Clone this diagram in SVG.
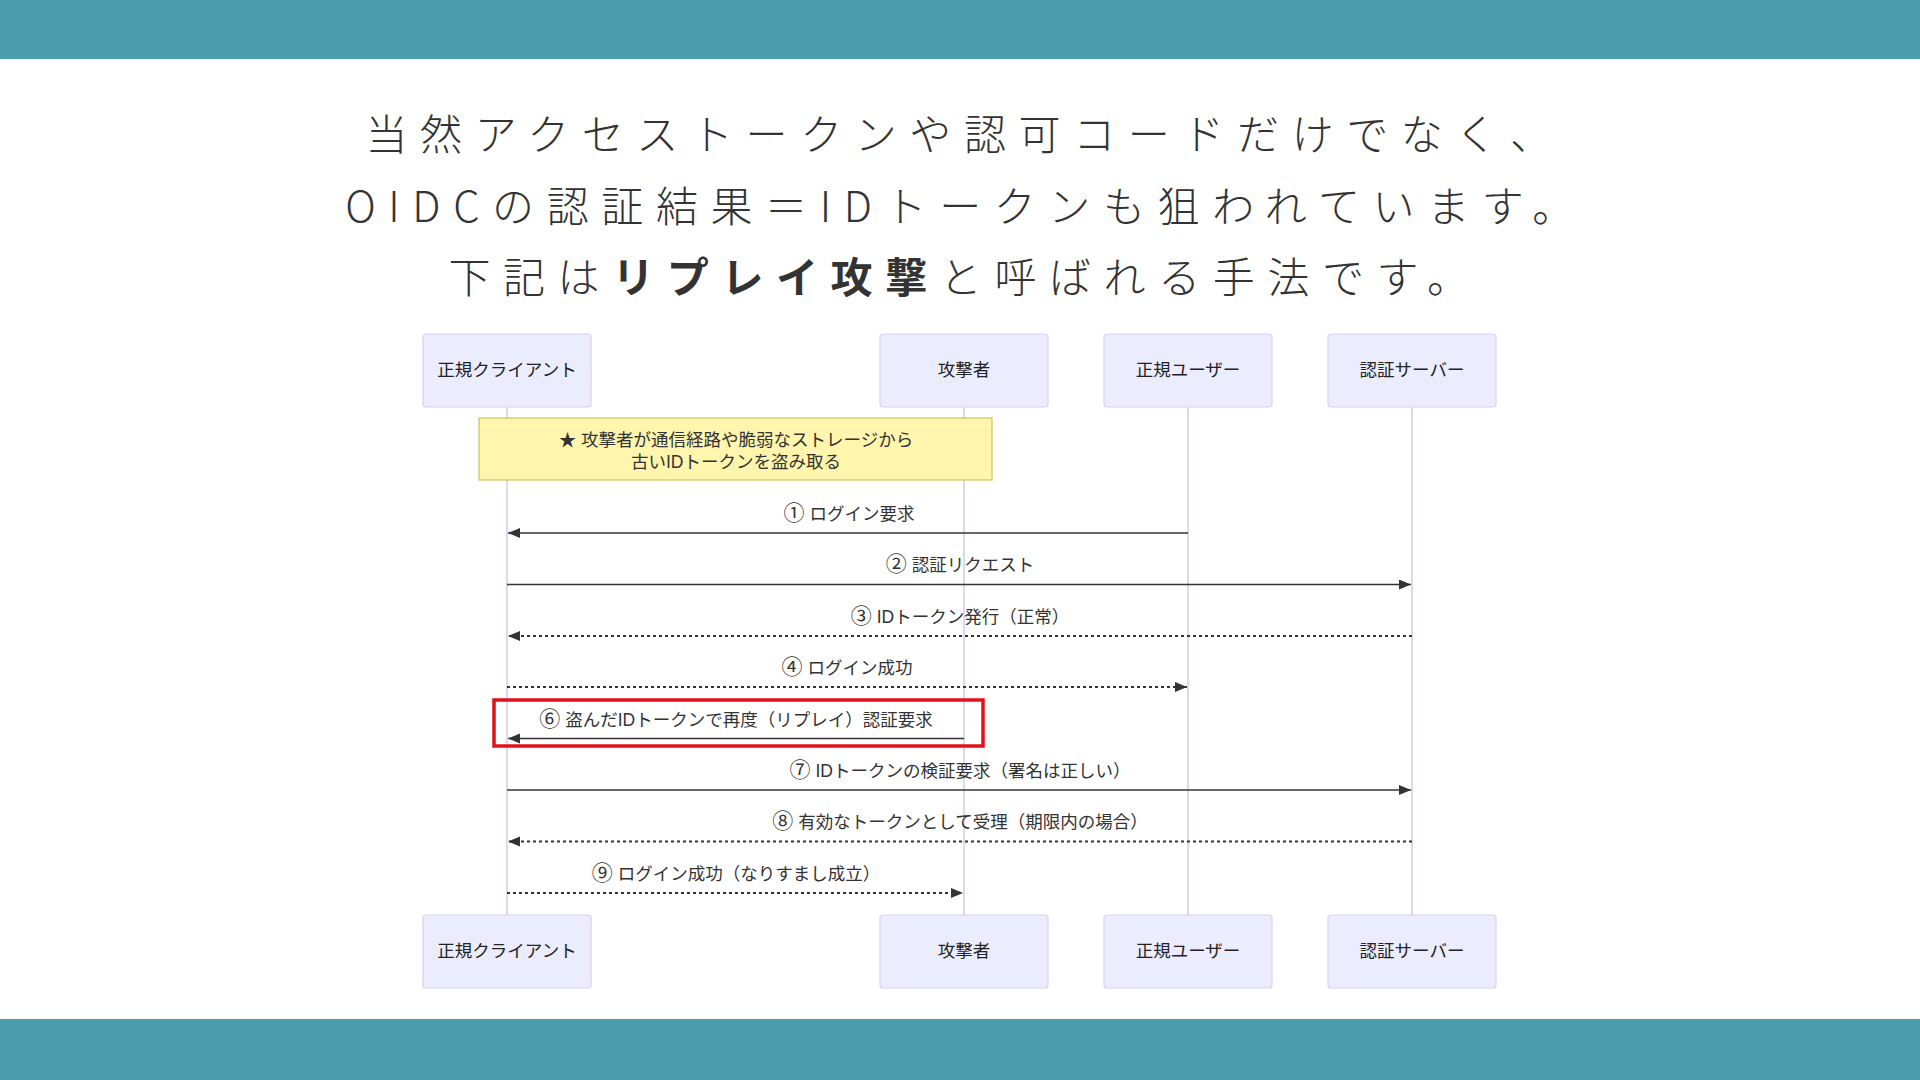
<svg xmlns="http://www.w3.org/2000/svg" width="1920" height="1080" viewBox="0 0 1920 1080">
<style>
.bar{fill:#4c9dab}
.title{font-family:"Noto Sans CJK JP","Noto Sans",sans-serif;font-size:42px;font-weight:300;fill:#333;letter-spacing:12.6px}
.title .b{font-weight:700}
.actor{fill:#ececff;stroke:#d9d0f2;stroke-width:1.2}
.lbl{font-family:"Liberation Sans","Noto Sans CJK JP",sans-serif;font-size:17.5px;fill:#222;text-anchor:middle}
.life{stroke:#d6ccef;stroke-width:1.6;fill:none}
.note{fill:#fff5ad;stroke:#c8c55a;stroke-width:1.2}
.msg{stroke:#333;stroke-width:1.6;fill:none}
.dot{stroke:#333;stroke-width:2;stroke-dasharray:3,3;fill:none}
.mt{font-family:"Liberation Sans","Noto Sans CJK JP",sans-serif;font-size:17.5px;fill:#333;text-anchor:middle}
.n{font-family:"Noto Sans CJK JP",sans-serif;font-size:21px}
.hl{fill:none;stroke:#e3101a;stroke-width:3.5}
</style>
<defs>
<marker id="ah" markerUnits="userSpaceOnUse" markerWidth="13" markerHeight="11" refX="12" refY="5" orient="auto">
<path d="M0,0 L12,5 L0,10 z" fill="#333"/>
</marker>
</defs>
<rect x="0" y="0" width="1920" height="1080" fill="#ffffff"/>
<rect class="bar" x="0" y="0" width="1920" height="59"/>
<rect class="bar" x="0" y="1019" width="1920" height="61"/>

<g id="title">
<text class="title" x="965" y="150" text-anchor="middle">当然アクセストークンや認可コードだけでなく、</text>
<text class="title" x="966" y="222" text-anchor="middle">OIDCの認証結果＝IDトークンも狙われています。</text>
<text class="title" x="965" y="293" text-anchor="middle">下記は<tspan class="b">リプレイ攻撃</tspan>と呼ばれる手法です。</text>
</g>

<g id="lifelines">
<line class="life" x1="507" y1="407" x2="507" y2="915"/>
<line class="life" x1="964" y1="407" x2="964" y2="915"/>
<line class="life" x1="1188" y1="407" x2="1188" y2="915"/>
<line class="life" x1="1412" y1="407" x2="1412" y2="915"/>
</g>

<g id="actor-client-top"><rect class="actor" x="423" y="334" width="168" height="73" rx="3"/><text class="lbl" x="507" y="376">正規クライアント</text></g>
<g id="actor-attacker-top"><rect class="actor" x="880" y="334" width="168" height="73" rx="3"/><text class="lbl" x="964" y="376">攻撃者</text></g>
<g id="actor-user-top"><rect class="actor" x="1104" y="334" width="168" height="73" rx="3"/><text class="lbl" x="1188" y="376">正規ユーザー</text></g>
<g id="actor-server-top"><rect class="actor" x="1328" y="334" width="168" height="73" rx="3"/><text class="lbl" x="1412" y="376">認証サーバー</text></g>

<g id="actor-client-bottom"><rect class="actor" x="423" y="915" width="168" height="73" rx="3"/><text class="lbl" x="507" y="957">正規クライアント</text></g>
<g id="actor-attacker-bottom"><rect class="actor" x="880" y="915" width="168" height="73" rx="3"/><text class="lbl" x="964" y="957">攻撃者</text></g>
<g id="actor-user-bottom"><rect class="actor" x="1104" y="915" width="168" height="73" rx="3"/><text class="lbl" x="1188" y="957">正規ユーザー</text></g>
<g id="actor-server-bottom"><rect class="actor" x="1328" y="915" width="168" height="73" rx="3"/><text class="lbl" x="1412" y="957">認証サーバー</text></g>

<g id="note">
<rect class="note" x="479" y="418" width="513" height="62"/>
<text class="mt" x="736" y="446">★ 攻撃者が通信経路や脆弱なストレージから</text>
<text class="mt" x="736" y="468">古いIDトークンを盗み取る</text>
</g>

<g id="connectors">
<text class="mt" x="849" y="520"><tspan class="n">①</tspan> ログイン要求</text>
<line class="msg" x1="1188" y1="533" x2="508" y2="533" marker-end="url(#ah)"/>
<text class="mt" x="960" y="571"><tspan class="n">②</tspan> 認証リクエスト</text>
<line class="msg" x1="507" y1="584.5" x2="1411" y2="584.5" marker-end="url(#ah)"/>
<text class="mt" x="960" y="623"><tspan class="n">③</tspan> IDトークン発行（正常）</text>
<line class="dot" x1="1412" y1="636" x2="508" y2="636" marker-end="url(#ah)"/>
<text class="mt" x="847" y="674"><tspan class="n">④</tspan> ログイン成功</text>
<line class="dot" x1="507" y1="687" x2="1187" y2="687" marker-end="url(#ah)"/>
<text class="mt" x="736" y="726"><tspan class="n">⑥</tspan> 盗んだIDトークンで再度（リプレイ）認証要求</text>
<line class="msg" x1="964" y1="738.5" x2="508" y2="738.5" marker-end="url(#ah)"/>
<text class="mt" x="960" y="777"><tspan class="n">⑦</tspan> IDトークンの検証要求（署名は正しい）</text>
<line class="msg" x1="507" y1="790" x2="1411" y2="790" marker-end="url(#ah)"/>
<text class="mt" x="960" y="828"><tspan class="n">⑧</tspan> 有効なトークンとして受理（期限内の場合）</text>
<line class="dot" x1="1412" y1="841.5" x2="508" y2="841.5" marker-end="url(#ah)"/>
<text class="mt" x="736" y="880"><tspan class="n">⑨</tspan> ログイン成功（なりすまし成立）</text>
<line class="dot" x1="507" y1="893" x2="963" y2="893" marker-end="url(#ah)"/>
</g>

<rect id="highlight" class="hl" x="494" y="700" width="489" height="46"/>
</svg>
